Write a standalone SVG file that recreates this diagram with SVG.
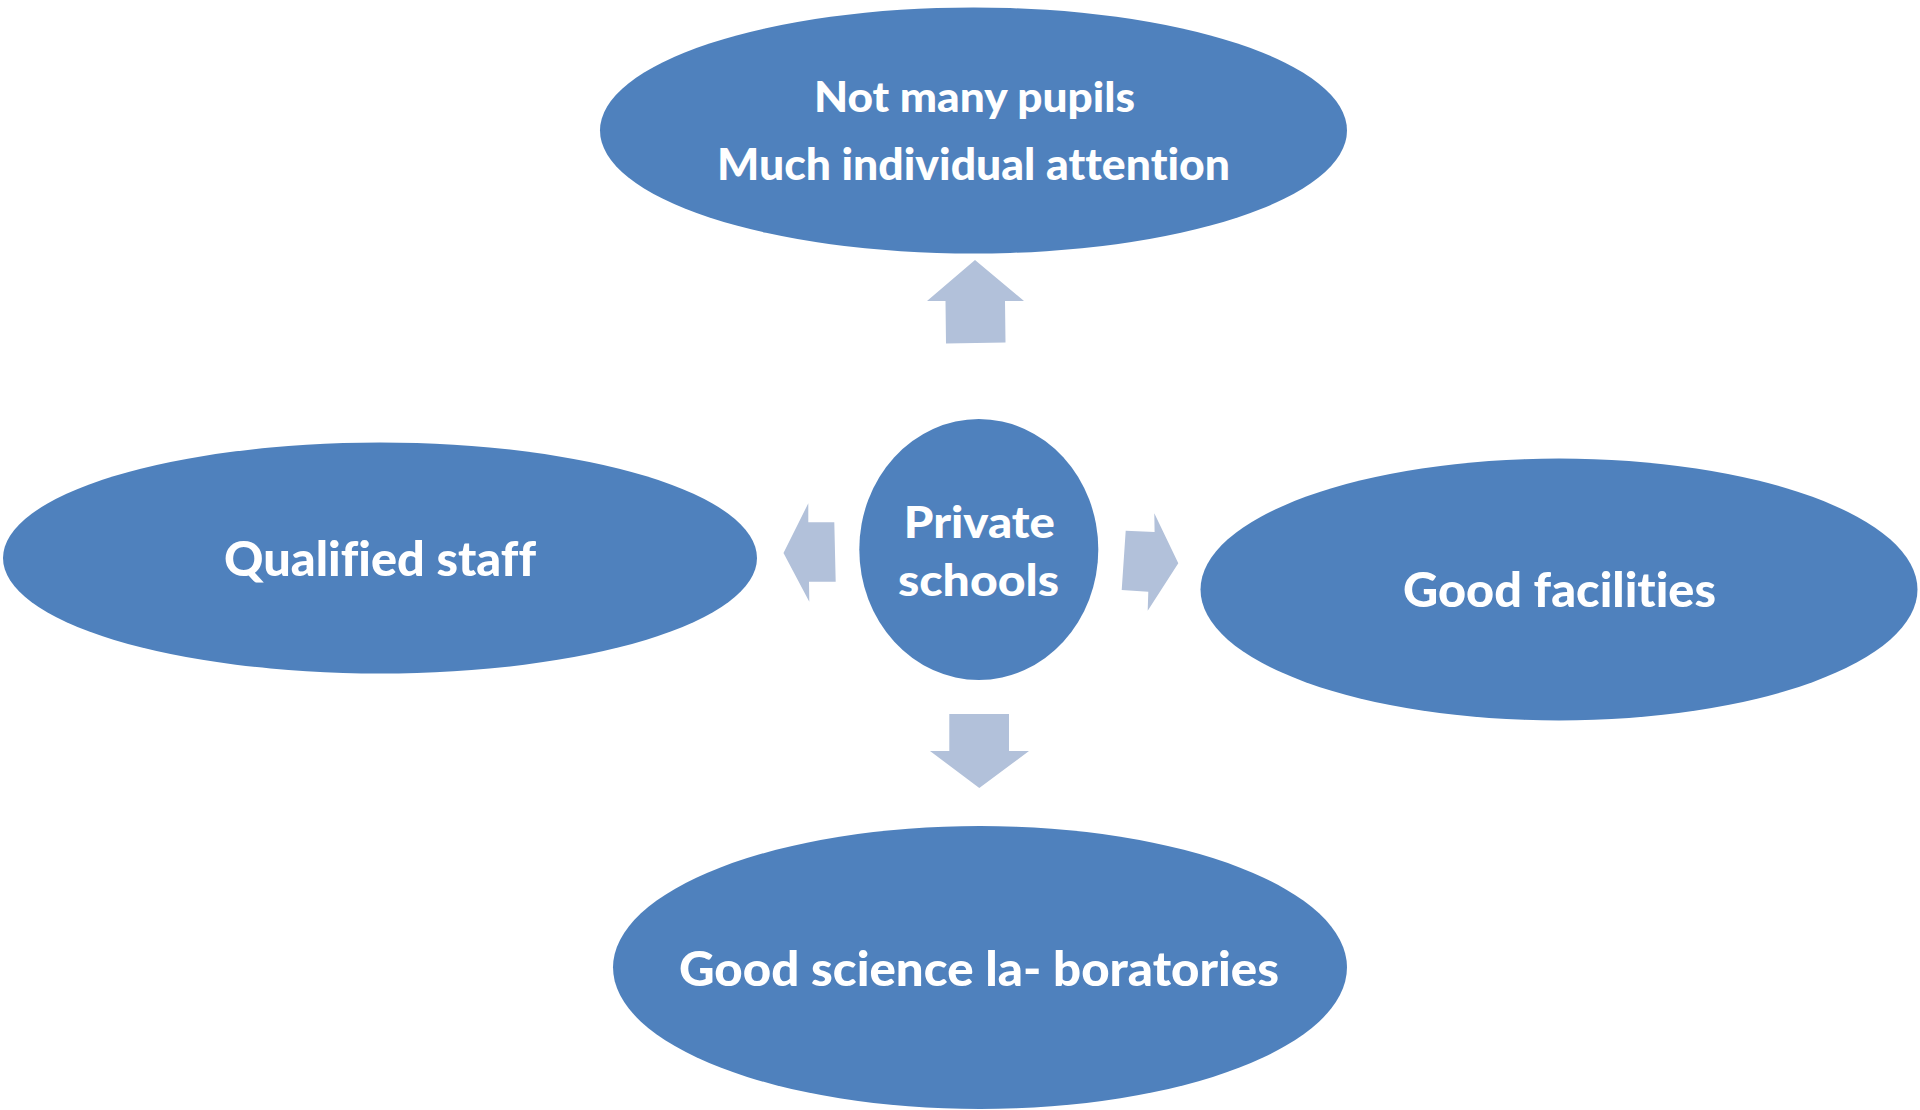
<svg xmlns="http://www.w3.org/2000/svg" width="1920" height="1110" viewBox="0 0 1920 1110">
  <style>
    .node { fill: #4F81BD; }
    .arrow { fill: #B2C1DA; }
    .label { font-family: Lato, "Open Sans", "Liberation Sans", sans-serif; font-weight: 900; fill: #FFFFFF; text-anchor: middle; font-variant-ligatures: none; font-feature-settings: "liga" 0, "clig" 0; }
  </style>
  <rect x="0" y="0" width="1920" height="1110" fill="#FFFFFF"/>
  <g id="connectors">
    <polygon class="arrow" points="946,343.5 1005.5,342.5 1005,301 1024,301 975,260 927,301 945.5,301"/>
    <polygon class="arrow" points="783.5,553 808.3,503.3 808.3,522.3 834.3,522.3 835.7,581.7 809,581.7 809.3,601.7"/>
    <polygon class="arrow" points="1125.7,530.7 1154.6,532 1154.3,513.3 1178.3,563.3 1147.7,610.7 1148.3,591.7 1121.7,590"/>
    <polygon class="arrow" points="949.3,714 1009,714 1009,751 1029,751 979.3,788 930,751 949.3,751"/>
  </g>
  <g id="node-top">
    <ellipse class="node" cx="973.5" cy="130.5" rx="373.5" ry="123"/>
    <text class="label" x="974.5" y="112" font-size="42" textLength="321" lengthAdjust="spacingAndGlyphs">Not many pupils</text>
    <text class="label" x="973.5" y="180" font-size="43" textLength="513" lengthAdjust="spacingAndGlyphs">Much individual attention</text>
  </g>
  <g id="node-left">
    <ellipse class="node" cx="380" cy="558" rx="377" ry="115.5"/>
    <text class="label" x="380" y="576" font-size="47.5" textLength="312" lengthAdjust="spacingAndGlyphs">Qualified staff</text>
  </g>
  <g id="node-right">
    <ellipse class="node" cx="1559" cy="589.5" rx="358.5" ry="131"/>
    <text class="label" x="1559.5" y="606.5" font-size="47.5" textLength="313" lengthAdjust="spacingAndGlyphs">Good facilities</text>
  </g>
  <g id="node-bottom">
    <ellipse class="node" cx="980" cy="967.5" rx="367" ry="141.5"/>
    <text class="label" x="979" y="986" font-size="47.5" textLength="600" lengthAdjust="spacingAndGlyphs">Good science la- boratories</text>
  </g>
  <g id="node-center">
    <ellipse class="node" cx="978.8" cy="549.5" rx="119.5" ry="130.5"/>
    <text class="label" x="979.3" y="538" font-size="44" textLength="151" lengthAdjust="spacingAndGlyphs">Private</text>
    <text class="label" x="978.5" y="596" font-size="44" textLength="161" lengthAdjust="spacingAndGlyphs">schools</text>
  </g>
</svg>
